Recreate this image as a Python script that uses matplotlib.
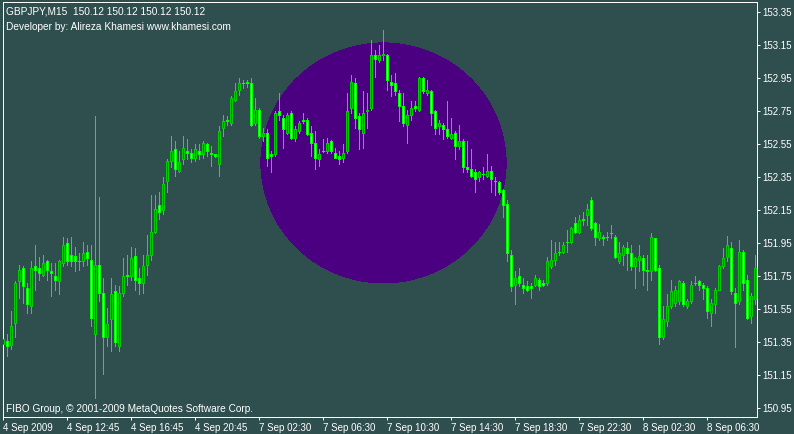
import matplotlib
matplotlib.use("Agg")
import matplotlib.pyplot as plt
from matplotlib.patches import Ellipse

# ---------------- data (GBPJPY, M15) ----------------
opens = [151.34,151.36,151.335,151.47,151.72,151.80,151.68,151.57,151.81,151.80,
         151.76,151.84,151.78,151.75,151.72,151.83,151.95,151.88,151.87,151.845,
         151.84,151.90,151.85,151.40,151.82,151.65,151.38,151.49,151.66,151.33,
         151.65,151.76,151.75,151.87,151.74,151.71,151.82,151.88,152.02,152.18,
         152.15,152.33,152.45,152.52,152.39,152.46,152.51,152.50,152.47,152.51,
         152.49,152.55,152.50,152.49,152.43,152.65,152.70,152.68,152.82,152.88,
         152.92,152.93,152.92,152.68,152.76,152.60,152.62,152.49,152.49,152.75,
         152.71,152.62,152.74,152.59,152.63,152.70,152.70,152.62,152.56,152.46,
         152.51,152.51,152.57,152.50,152.48,152.47,152.51,152.77,152.92,152.72,
         152.62,152.75,152.77,153.09,153.06,153.09,153.09,152.93,152.92,152.86,
         152.78,152.67,152.73,152.78,152.76,152.95,152.86,152.87,152.75,152.66,
         152.67,152.64,152.59,152.62,152.54,152.57,152.41,152.40,152.38,152.35,
         152.37,152.36,152.39,152.33,152.32,152.27,152.19,151.88,151.70,151.75,
         151.70,151.69,151.69,151.70,151.73,151.71,151.71,151.81,151.85,151.90,
         151.90,151.96,151.96,152.07,152.02,152.10,152.12,152.21,152.07,151.98,
         151.99,151.99,152.01,151.99,151.84,151.88,151.92,151.89,151.81,151.85,
         151.86,151.79,151.78,151.98,151.80,151.38,151.48,151.57,151.59,151.60,
         151.71,151.57,151.60,151.71,151.72,151.70,151.68,151.53,151.58,151.67,
         151.81,151.87,151.92,151.65,151.60,151.90,151.73,151.51,151.61]
highs = [151.41,151.40,151.54,151.72,151.82,151.81,151.71,151.84,151.94,151.87,
         151.88,151.85,151.83,151.83,151.85,151.99,151.98,151.99,151.93,151.89,
         151.96,151.94,151.94,152.72,152.23,151.74,151.56,151.74,151.70,151.69,
         151.86,151.88,151.93,151.92,151.80,151.88,152.00,152.24,152.24,152.26,
         152.35,152.46,152.60,152.57,152.51,152.60,152.58,152.52,152.55,152.55,
         152.57,152.56,152.54,152.49,152.66,152.73,152.72,152.84,152.92,152.95,
         152.94,152.94,152.95,152.83,152.77,152.65,152.64,152.51,152.75,152.86,
         152.73,152.74,152.75,152.66,152.69,152.74,152.71,152.66,152.63,152.52,
         152.58,152.59,152.575,152.53,152.51,152.55,152.86,152.97,152.95,152.74,
         152.87,152.86,153.18,153.12,153.15,153.24,153.10,152.97,152.98,152.88,
         152.86,152.76,152.81,152.81,152.96,152.96,152.94,152.88,152.76,152.70,
         152.68,152.81,152.71,152.63,152.67,152.58,152.57,152.52,152.40,152.39,
         152.41,152.49,152.42,152.35,152.33,152.28,152.21,151.91,151.78,151.80,
         151.74,151.72,151.71,151.76,151.74,151.73,151.87,151.97,151.96,151.96,
         151.96,152.03,152.05,152.11,152.12,152.14,152.19,152.23,152.08,152.07,
         152.00,152.02,152.06,152.00,151.96,151.94,151.96,151.94,151.87,151.94,
         151.88,151.88,152.01,151.985,151.82,151.57,151.64,151.73,151.69,151.725,
         151.72,151.61,151.72,151.75,151.725,151.71,151.69,151.61,151.68,151.82,
         151.92,151.995,151.96,151.68,151.97,151.91,151.76,151.65,151.88]
lows = [151.27,151.27,151.31,151.38,151.62,151.59,151.53,151.53,151.67,151.73,
        151.75,151.73,151.63,151.67,151.64,151.81,151.82,151.81,151.78,151.79,
        151.81,151.82,151.45,151.01,151.60,151.16,151.33,151.30,151.33,151.30,
        151.63,151.70,151.73,151.67,151.64,151.65,151.76,151.85,152.01,152.10,
        152.13,152.26,152.41,152.36,152.38,152.43,152.46,152.44,152.45,152.46,
        152.47,152.48,152.42,152.475,152.36,152.60,152.67,152.67,152.81,152.85,
        152.89,152.90,152.66,152.67,152.59,152.57,152.42,152.38,152.48,152.70,
        152.53,152.61,152.585,152.57,152.62,152.68,152.605,152.48,152.40,152.42,
        152.505,152.50,152.50,152.465,152.43,152.44,152.50,152.74,152.65,152.52,
        152.53,152.65,152.76,152.96,153.05,153.06,152.88,152.84,152.85,152.69,
        152.66,152.56,152.70,152.75,152.75,152.86,152.85,152.67,152.61,152.61,
        152.58,152.59,152.585,152.46,152.52,152.38,152.38,152.35,152.26,152.33,
        152.34,152.35,152.26,152.24,152.25,152.11,151.84,151.66,151.58,151.69,
        151.65,151.66,151.62,151.69,151.67,151.69,151.70,151.80,151.82,151.88,
        151.89,151.90,151.95,152.01,152.01,152.06,152.06,152.03,151.94,151.97,
        151.94,151.97,151.98,151.86,151.83,151.82,151.79,151.79,151.68,151.78,
        151.70,151.67,151.73,151.78,151.34,151.37,151.45,151.56,151.57,151.58,
        151.57,151.56,151.59,151.70,151.67,151.61,151.50,151.45,151.53,151.665,
        151.80,151.84,151.64,151.32,151.58,151.67,151.49,151.47,151.58]
closes = [151.37,151.33,151.45,151.71,151.79,151.69,151.58,151.80,151.79,151.77,
          151.83,151.79,151.77,151.73,151.84,151.94,151.84,151.84,151.84,151.84,
          151.89,151.86,151.50,151.82,151.65,151.38,151.46,151.64,151.35,151.65,
          151.75,151.75,151.86,151.73,151.71,151.81,151.88,152.02,152.16,152.14,
          152.31,152.45,152.51,152.40,152.44,152.53,152.50,152.47,152.52,152.49,
          152.56,152.51,152.49,152.48,152.63,152.69,152.69,152.83,152.87,152.92,
          152.92,152.92,152.67,152.76,152.60,152.62,152.47,152.48,152.74,152.73,
          152.64,152.73,152.59,152.64,152.68,152.69,152.61,152.56,152.47,152.49,
          152.51,152.56,152.51,152.47,152.46,152.50,152.75,152.93,152.71,152.64,
          152.74,152.76,153.09,153.07,153.09,153.10,152.94,152.91,152.87,152.78,
          152.68,152.73,152.77,152.77,152.95,152.87,152.88,152.74,152.65,152.68,
          152.64,152.60,152.61,152.54,152.57,152.41,152.40,152.36,152.34,152.38,
          152.37,152.39,152.34,152.33,152.26,152.18,151.89,151.69,151.74,151.71,
          151.68,151.67,151.68,151.74,151.69,151.70,151.84,151.85,151.89,151.90,
          151.94,151.96,152.04,152.02,152.09,152.09,152.16,152.04,151.99,152.02,
          151.98,151.99,152.01,151.87,151.89,151.93,151.89,151.81,151.86,151.87,
          151.79,151.785,151.99,151.79,151.38,151.49,151.57,151.66,151.67,151.72,
          151.58,151.60,151.70,151.71,151.70,151.68,151.54,151.59,151.67,151.81,
          151.86,151.94,151.66,151.59,151.90,151.71,151.50,151.63,151.80]

x_tick_labels = ["4 Sep 2009", "4 Sep 12:45", "4 Sep 16:45", "4 Sep 20:45",
                 "7 Sep 02:30", "7 Sep 06:30", "7 Sep 10:30", "7 Sep 14:30",
                 "7 Sep 18:30", "7 Sep 22:30", "8 Sep 02:30", "8 Sep 06:30"]
y_ticks = [150.95, 151.15, 151.35, 151.55, 151.75, 151.95, 152.15,
           152.35, 152.55, 152.75, 152.95, 153.15, 153.35]

# ellipse object (time index / price anchors)
ell_center_bar = 95.05
ell_center_price = 152.437
ell_width_bars = 61.3
ell_height_price = 1.455

# ---------------- style ----------------
BG = "#2F4F4F"
WICK = "#22DD22"
UP_EDGE = "#00CC00"
DN_EDGE = "#00FF00"
DN_FILL = "#E0FFE0"
PX = 0.72  # one pixel in points at dpi 100

W, H = 794, 434
fig = plt.figure(figsize=(W / 100, H / 100), dpi=100, facecolor=BG)
left_px, right_px, top_px, bot_px = 2.5, 756.7, 2.0, 417.0
ax = fig.add_axes([left_px / W, 1 - bot_px / H,
                   (right_px - left_px) / W, (bot_px - top_px) / H])
ax.set_facecolor(BG)

n = len(opens)
xs = list(range(n))

ax.add_patch(Ellipse((ell_center_bar, ell_center_price), ell_width_bars,
                     ell_height_price, facecolor="#4B0082", edgecolor="none",
                     zorder=1, antialiased=False))

ax.vlines(xs, lows, highs, colors=WICK, linewidth=PX, zorder=2, antialiased=False)

for i in xs:
    o, c = opens[i], closes[i]
    lo, hi = min(o, c), max(o, c)
    if c > o:
        fc, ec = BG, UP_EDGE
    else:
        fc, ec = DN_FILL, DN_EDGE
    ax.bar(i, hi - lo, bottom=lo, width=0.5, facecolor=fc, edgecolor=ec,
           linewidth=PX, zorder=3, antialiased=False)

ax.set_xlim((left_px - 3.3) / 4.0, (right_px - 3.3) / 4.0)
ax.set_ylim(153.35 - (bot_px - 12.3) / 165.0, 153.35 + (12.3 - top_px) / 165.0)

for s in ax.spines.values():
    s.set_color("white")
    s.set_linewidth(PX)

FONT = "Liberation Sans"
FS = 7
FS_TXT = 7.3

ax.yaxis.tick_right()
ax.set_yticks(y_ticks)
ax.set_yticklabels([f"{v:.2f}" for v in y_ticks], fontsize=FS, family=FONT,
                   color="white")
ax.tick_params(axis="y", direction="out", length=2.5, width=PX, colors="white",
               pad=1.5)

ax.set_xticks(list(range(0, n, 16))[:len(x_tick_labels)])
ax.set_xticklabels(x_tick_labels, fontsize=FS, family=FONT, color="white",
                   ha="left")
ax.tick_params(axis="x", direction="out", length=2.5, width=PX, colors="white",
               pad=1.5)

fig.text(6 / W, 1 - 11 / H, "GBPJPY,M15  150.12 150.12 150.12 150.12",
         color="white", fontsize=FS_TXT, family=FONT, va="center", ha="left")
fig.text(6 / W, 1 - 27 / H, "Developer by: Alireza Khamesi www.khamesi.com",
         color="white", fontsize=FS_TXT, family=FONT, va="center", ha="left")
fig.text(6 / W, 1 - 409 / H, "FIBO Group, © 2001-2009 MetaQuotes Software Corp.",
         color="white", fontsize=FS_TXT, family=FONT, va="center", ha="left")

fig.savefig("out.png", dpi=100, facecolor=BG)
